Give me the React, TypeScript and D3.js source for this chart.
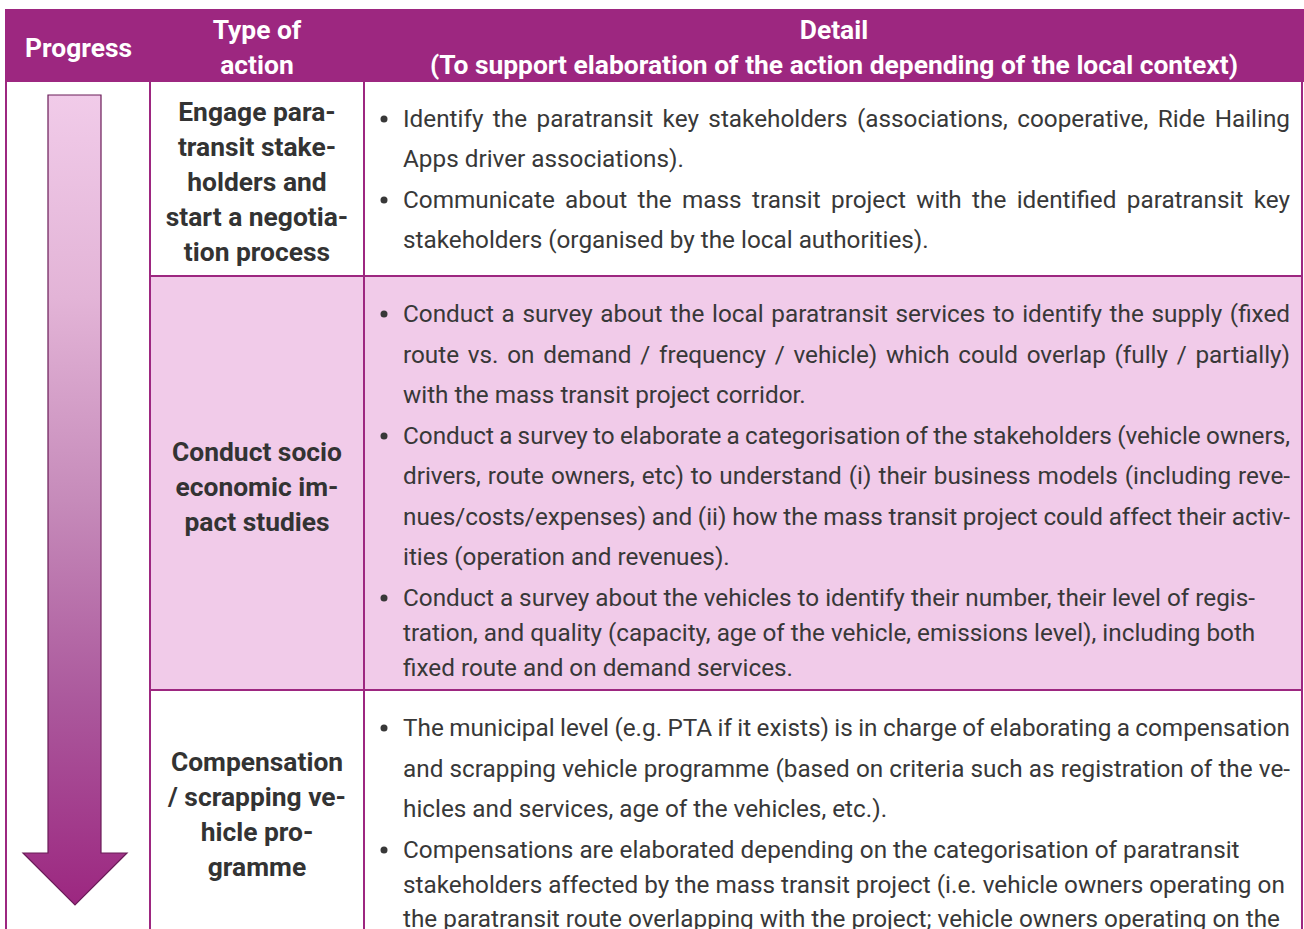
import React, { useMemo } from "react";
import * as d3 from "d3";

const W = 1304;
const H = 929;

const headerProgress = "Progress";
const headerType = ["Type of", "action"];
const headerDetail = ["Detail", "(To support elaboration of the action depending of the local context)"];

const rowTops = [82, 276, 690, 960];
const rowFills = ["#ffffff", "#f1cbe9", "#ffffff"];

const typeLabels = [
  ["Engage para-", "transit stake-", "holders and", "start a negotia-", "tion process"],
  ["Conduct socio", "economic im-", "pact studies"],
  ["Compensation", "/ scrapping ve-", "hicle pro-", "gramme"],
];
const typeCenters = [181, 486, 814];

type Line = { t: string; b: boolean; j: boolean; y: number };

const detail1: Line[] = [
  { t: "Identify the paratransit key stakeholders (associations, cooperative, Ride Hailing", b: true, j: true, y: 118 },
  { t: "Apps driver associations).", b: false, j: false, y: 158 },
  { t: "Communicate about the mass transit project with the identified paratransit key", b: true, j: true, y: 199 },
  { t: "stakeholders (organised by the local authorities).", b: false, j: false, y: 239 },
];
const detail2: Line[] = [
  { t: "Conduct a survey about the local paratransit services to identify the supply (fixed", b: true, j: true, y: 313 },
  { t: "route vs. on demand / frequency / vehicle) which could overlap (fully / partially)", b: false, j: true, y: 354 },
  { t: "with the mass transit project corridor.", b: false, j: false, y: 394 },
  { t: "Conduct a survey to elaborate a categorisation of the stakeholders (vehicle owners,", b: true, j: true, y: 435 },
  { t: "drivers, route owners, etc) to understand (i) their business models (including reve-", b: false, j: true, y: 475 },
  { t: "nues/costs/expenses) and (ii) how the mass transit project could affect their activ-", b: false, j: true, y: 516 },
  { t: "ities (operation and revenues).", b: false, j: false, y: 556 },
  { t: "Conduct a survey about the vehicles to identify their number, their level of regis-", b: true, j: false, y: 597 },
  { t: "tration, and quality (capacity, age of the vehicle, emissions level), including both", b: false, j: false, y: 632 },
  { t: "fixed route and on demand services.", b: false, j: false, y: 667 },
];
const detail3: Line[] = [
  { t: "The municipal level (e.g. PTA if it exists) is in charge of elaborating a compensation", b: true, j: true, y: 727 },
  { t: "and scrapping vehicle programme (based on criteria such as registration of the ve-", b: false, j: true, y: 768 },
  { t: "hicles and services, age of the vehicles, etc.).", b: false, j: false, y: 808 },
  { t: "Compensations are elaborated depending on the categorisation of paratransit", b: true, j: false, y: 849 },
  { t: "stakeholders affected by the mass transit project (i.e. vehicle owners operating on", b: false, j: false, y: 884 },
  { t: "the paratransit route overlapping with the project; vehicle owners operating on the", b: false, j: false, y: 918 },
];
const details = [detail1, detail2, detail3];

const PURPLE = "#9d2780";
const TEXT = "#383838";
const BODY_FS = 24.3;
const BOLD_FS = 26.4;
const BODY_FONT = "Roboto, 'Noto Sans', sans-serif";

const xLeft = 5;
const xCol1 = 150;
const xCol2 = 364;
const xRight = 1302;
const headerTop = 9;
const headerBottom = 82;
const textX = 403;
const textRight = 1290;
const bulletX = 384;

function useMeasure() {
  return useMemo(() => {
    const c = document.createElement("canvas");
    const ctx = c.getContext("2d")!;
    ctx.font = `${BODY_FS}px Roboto`;
    return (s: string) => ctx.measureText(s).width;
  }, []);
}

export default function App() {
  const measure = useMeasure();
  const x = d3.scaleLinear().domain([0, W]).range([0, W]);
  const arrowTop = 95;
  const headTop = 853;
  const tip = 905;
  const cx = 75;
  const arrowPath = d3.path();
  arrowPath.moveTo(x(48), arrowTop);
  arrowPath.lineTo(x(101), arrowTop);
  arrowPath.lineTo(x(101), headTop);
  arrowPath.lineTo(x(127), headTop);
  arrowPath.lineTo(x(cx), tip);
  arrowPath.lineTo(x(23), headTop);
  arrowPath.lineTo(x(48), headTop);
  arrowPath.closePath();

  return (
    <svg width={W} height={H} style={{ position: "absolute", left: 0, top: 0, display: "block" }}>
      <defs>
        <linearGradient id="arrowGrad" x1="0" y1="0" x2="0" y2="1">
          <stop offset="0" stopColor="#f1cbe9" />
          <stop offset="0.25" stopColor="#e3b4d7" />
          <stop offset="0.5" stopColor="#c68bba" />
          <stop offset="0.75" stopColor="#ab589c" />
          <stop offset="1" stopColor="#9c2780" />
        </linearGradient>
      </defs>
      <rect x={0} y={0} width={W} height={H} fill="#fff" />
      <rect x={xLeft} y={headerTop} width={xRight - xLeft + 2} height={headerBottom - headerTop} fill={PURPLE} />
      <g fontFamily={BODY_FONT} fontWeight={700} fill="#fff" fontSize={BOLD_FS} textAnchor="middle">
        <text x={(xLeft + xCol1) / 2 + 1} y={56.5}>{headerProgress}</text>
        {headerType.map((t, i) => (
          <text key={i} x={(xCol1 + xCol2) / 2} y={38.5 + i * 35}>{t}</text>
        ))}
        {headerDetail.map((t, i) => (
          <text key={i} x={(xCol2 + xRight) / 2 + 1} y={38.5 + i * 35}>{t}</text>
        ))}
      </g>
      {rowFills.map((f, i) => (
        <rect key={i} x={xCol1} y={rowTops[i]} width={xRight - xCol1} height={rowTops[i + 1] - rowTops[i]} fill={f} />
      ))}
      <g stroke={PURPLE} strokeWidth={2} fill="none">
        <line x1={xLeft + 1} x2={xLeft + 1} y1={headerBottom} y2={H} />
        <line x1={xCol1} x2={xCol1} y1={headerBottom} y2={H} />
        <line x1={xCol2} x2={xCol2} y1={headerBottom} y2={H} />
        <line x1={xRight} x2={xRight} y1={headerBottom} y2={H} />
        {rowTops.slice(1, 3).map((y, i) => (
          <line key={i} x1={xCol1} x2={xRight} y1={y} y2={y} />
        ))}
      </g>
      <path d={arrowPath.toString()} fill="url(#arrowGrad)" stroke="#6a1c58" strokeWidth={1.2} />
      <g fontFamily={BODY_FONT} fontWeight={700} fill="#333" fontSize={BOLD_FS} textAnchor="middle">
        {typeLabels.map((lines, r) =>
          lines.map((t, i) => {
            const yc = typeCenters[r] + (i - (lines.length - 1) / 2) * 35;
            return (
              <text key={`${r}-${i}`} x={(xCol1 + xCol2) / 2} y={yc + 9.5}>{t}</text>
            );
          })
        )}
      </g>
      <g fontFamily={BODY_FONT} fill={TEXT} fontSize={BODY_FS}>
        {details.map((rows, r) =>
          rows.map((ln, i) => {
            let ws = 0;
            if (ln.j) {
              const nat = measure(ln.t);
              const spaces = (ln.t.match(/ /g) || []).length;
              ws = spaces > 0 ? (textRight - textX - nat) / spaces : 0;
            }
            return (
              <g key={`${r}-${i}`}>
                {ln.b && <circle cx={bulletX} cy={ln.y + 1} r={3.5} fill={TEXT} />}
                <text x={textX} y={ln.y + 8.5} style={{ wordSpacing: `${ws}px` }}>{ln.t}</text>
              </g>
            );
          })
        )}
      </g>
    </svg>
  );
}
